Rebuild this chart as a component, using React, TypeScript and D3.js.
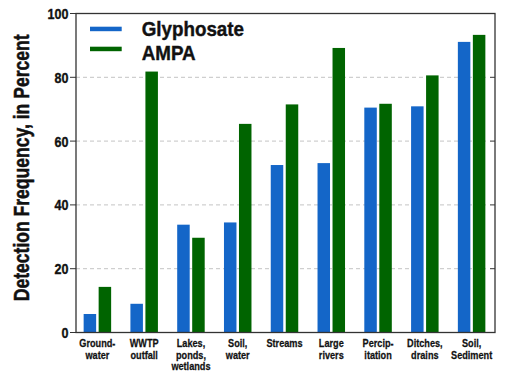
import React from "react";
import * as d3 from "d3";

const categories = [
  ["Ground-", "water"],
  ["WWTP", "outfall"],
  ["Lakes,", "ponds,", "wetlands"],
  ["Soil,", "water"],
  ["Streams"],
  ["Large", "rivers"],
  ["Percip-", "itation"],
  ["Ditches,", "drains"],
  ["Soil,", "Sediment"],
];
const glyphosate = [5.8, 9.0, 33.8, 34.5, 52.5, 53.1, 70.5, 70.9, 91.1];
const ampa = [14.3, 81.8, 29.7, 65.4, 71.5, 89.2, 71.7, 80.6, 93.3];
const yTicks = [0, 20, 40, 60, 80, 100];
const seriesNames = ["Glyphosate", "AMPA"];
const colors = ["#1466c8", "#006400"];

const FONT = "'Liberation Sans', Arial, sans-serif";

function CText(props: { x: number; y: number; sx: number; size: number; anchor?: string; rotate?: number; sw?: number; children: React.ReactNode }) {
  const { x, y, sx, size, anchor = "start", rotate = 0, sw = 0.35, children } = props;
  return (
    <g transform={`translate(${x},${y}) rotate(${rotate}) scale(${sx},1)`}>
      <text x={0} y={0} textAnchor={anchor} fontSize={size} fontWeight="bold" fill="#111" stroke="#111" strokeWidth={sw}>{children}</text>
    </g>
  );
}

export default function App() {
  const W = 506, H = 378;
  const left = 76, right = 495, top = 13.5, bottom = 332.5;
  const y = d3.scaleLinear().domain([0, 100]).range([bottom, top]);
  const x = d3.scaleBand<number>().domain(d3.range(categories.length)).range([74, 495]).paddingInner(0).paddingOuter(0);
  const bw = 12.5, gap = 2.5;
  const series = [glyphosate, ampa];

  return (
    <svg width={W} height={H} style={{ position: "fixed", left: 0, top: 0, background: "#fff" }} fontFamily={FONT}>
      <rect x={0} y={0} width={W} height={H} fill="#fff" />
      {yTicks.filter(t => t > 0 && t < 100).map(t => (
        <line key={"g" + t} x1={left} x2={488} y1={y(t)} y2={y(t)} stroke="#c4c4c4" strokeWidth={1} strokeDasharray="4,3" />
      ))}
      {yTicks.map(t => (
        <g key={"t" + t}>
          <line x1={right - 5} x2={right} y1={y(t)} y2={y(t)} stroke="#333" strokeWidth={1} />
          <line x1={left - 6} x2={left} y1={y(t)} y2={y(t)} stroke="#333" strokeWidth={1} />
        </g>
      ))}
      {categories.map((c, i) => {
        const cx = (x(i) as number) + x.bandwidth() / 2;
        return series.map((s, k) => {
          const bx = k === 0 ? cx - gap / 2 - bw : cx + gap / 2;
          return <rect key={i + "-" + k} x={bx} y={y(s[i])} width={bw} height={y(0) - y(s[i])} fill={colors[k]} />;
        });
      })}
      <rect x={left} y={top} width={right - left} height={bottom - top} fill="none" stroke="#333" strokeWidth={1.3} />
      {yTicks.map(t => (
        <CText key={"l" + t} x={68.5} y={y(t) + 5.4} sx={0.82} size={15.3} anchor="end" sw={0.4}>{t}</CText>
      ))}
      {categories.map((c, i) => {
        const cx = (x(i) as number) + x.bandwidth() / 2;
        return c.map((line, j) => (
          <CText key={"c" + i + "-" + j} x={cx} y={347.3 + j * 11.4} sx={0.84} size={10.9} anchor="middle" sw={0.25}>{line}</CText>
        ));
      })}
      <CText x={28.5} y={(33 + 302.7) / 2} rotate={-90} sx={0.77} size={22.8} anchor="middle" sw={0.5}>
        Detection Frequency, in Percent
      </CText>
      {seriesNames.map((n, k) => (
        <g key={"lg" + k}>
          <rect x={90} y={26.7 + k * 20} width={31.7} height={4.5} fill={colors[k]} />
          <CText x={141.7} y={35.7 + k * 23.8} sx={0.94} size={20} sw={0.4}>{n}</CText>
        </g>
      ))}
    </svg>
  );
}
